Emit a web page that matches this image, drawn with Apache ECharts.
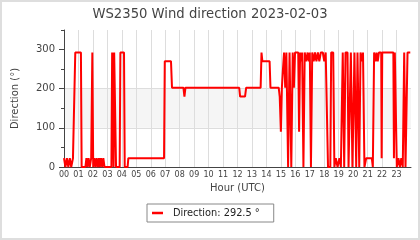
<!DOCTYPE html>
<html>
<head>
<meta charset="utf-8">
<script src="https://cdn.jsdelivr.net/npm/echarts@6/dist/echarts.min.js"></script>
<style>
html,body{margin:0;padding:0;background:#fff;}
#chart{width:420px;height:240px;}
</style>
</head>
<body>
<div id="chart"></div>
<script>
const titleText = 'WS2350 Wind direction 2023-02-03';
const seriesName = 'Direction: 292.5 °';
const xName = 'Hour (UTC)';
const yName = 'Direction (°)';
const yMajorTicks = [0, 100, 200, 300];

const hours = [
  0.00, 0.10, 0.20, 0.30, 0.40, 0.50, 0.62, 0.72, 0.78, 1.17, 1.22, 1.48, 1.55, 1.62, 1.70, 1.78, 1.88, 1.96, 2.02,
  2.10, 2.18, 2.26, 2.34, 2.42, 2.48, 2.56, 2.64, 2.72, 2.80, 3.28, 3.33, 3.40, 3.43, 3.47, 3.55, 3.60, 3.85, 3.90,
  4.15, 4.20, 4.40, 4.45, 6.92, 6.97, 7.40, 7.47, 8.26, 8.33, 8.40, 12.12, 12.18, 12.52, 12.60, 13.60, 13.66, 13.72,
  14.22, 14.28, 14.85, 14.92, 15.00, 15.07, 15.14, 15.22, 15.30, 15.38, 15.50, 15.60, 15.72, 15.82, 15.90, 15.98,
  16.20, 16.26, 16.33, 16.40, 16.47, 16.56, 16.65, 16.75, 16.85, 16.93, 17.00, 17.08, 17.17, 17.27, 17.36, 17.46,
  17.56, 17.66, 17.76, 17.90, 18.00, 18.10, 18.20, 18.26, 18.42, 18.48, 18.62, 18.70, 18.80, 18.92, 19.05, 19.15,
  19.22, 19.28, 19.38, 19.47, 19.61, 19.68, 19.84, 19.95, 20.09, 20.21, 20.30, 20.42, 20.51, 20.60, 20.68, 20.78,
  20.90, 21.29, 21.36, 21.45, 21.55, 21.62, 21.70, 21.78, 21.94, 21.97, 22.01, 22.78, 22.82, 22.88, 23.02, 23.13,
  23.23, 23.33, 23.43, 23.53, 23.62, 23.76, 23.95
];
const direction = [
  22.5, 0, 22.5, 0, 22.5, 0, 22.5, 22.5, 292.5, 292.5, 0, 0, 22.5, 0, 22.5, 0, 22.5, 292.5, 0,
  22.5, 0, 22.5, 0, 22.5, 0, 22.5, 0, 22.5, 0, 0, 292.5, 292.5, 0, 292.5, 292.5, 0, 0, 292.5,
  292.5, 0, 0, 22.5, 22.5, 270, 270, 202.5, 202.5, 180, 202.5, 202.5, 180, 180, 202.5, 202.5, 292.5, 270,
  270, 202.5, 202.5, 180, 90, 202.5, 247.5, 292.5, 202.5, 292.5, 0, 292.5, 0, 292.5, 202.5, 292.5,
  292.5, 90, 292.5, 270, 292.5, 0, 292.5, 270, 292.5, 270, 292.5, 0, 292.5, 270, 292.5, 270,
  292.5, 270, 292.5, 292.5, 270, 292.5, 292.5, 0, 0, 292.5, 292.5, 0, 22.5, 0, 22.5, 0,
  0, 292.5, 0, 292.5, 292.5, 0, 292.5, 0, 292.5, 0, 292.5, 0, 292.5, 270, 292.5, 0,
  22.5, 22.5, 0, 292.5, 270, 292.5, 270, 292.5, 292.5, 22.5, 292.5, 292.5, 22.5, 292.5, 0, 22.5,
  0, 22.5, 0, 292.5, 0, 292.5, 292.5
];

const chart = echarts.init(document.getElementById('chart'), null, {renderer: 'canvas'});
const font = 'DejaVu Sans';
const txt = '#444';
chart.setOption({
  animation: false,
  textStyle: {fontFamily: font},
  title: {
    text: titleText, left: 'center', top: 3,
    textStyle: {fontFamily: font, fontSize: 13.2, fontWeight: 'normal', color: txt}
  },
  graphic: [{
    type: 'rect', silent: true, z: 100,
    shape: {x: 1, y: 1, width: 418, height: 238},
    style: {fill: 'none', stroke: '#dedede', lineWidth: 2}
  }],
  grid: {left: 64, right: 9, top: 30, bottom: 73},
  legend: {
    left: 147, top: 204,
    padding: [4, 14, 4, 5],
    borderColor: '#888', borderWidth: 1, borderRadius: 0,
    icon: 'rect', itemWidth: 11, itemHeight: 2.5,
    textStyle: {fontFamily: font, fontSize: 9.8, color: '#222', padding: [0, 0, 0, 5]},
    data: [seriesName]
  },
  xAxis: {
    type: 'value', min: 0, max: 24, interval: 1,
    name: xName, nameLocation: 'middle', nameGap: 15,
    nameTextStyle: {fontFamily: font, fontSize: 10, color: txt},
    axisLine: {lineStyle: {color: '#444', width: 1}},
    axisTick: {show: false},
    axisLabel: {
      fontFamily: font, fontSize: 8, color: txt, margin: 4,
      formatter: v => v >= 24 ? '' : String(v).padStart(2, '0')
    },
    splitLine: {show: true, showMaxLine: false, lineStyle: {color: '#ddd', width: 1}}
  },
  yAxis: [{
    type: 'value', min: 0, max: 350, interval: 100, position: 'left',
    name: yName, nameLocation: 'middle', nameGap: 44,
    nameTextStyle: {fontFamily: font, fontSize: 10, color: txt},
    axisLine: {show: true, lineStyle: {color: '#444', width: 1}},
    axisTick: {show: true, length: 5, customValues: yMajorTicks, lineStyle: {color: '#444'}},
    axisLabel: {fontFamily: font, fontSize: 10, color: txt, margin: 9, customValues: yMajorTicks,
      formatter: v => v > 300 ? '' : String(v)},
    splitLine: {show: true, showMinLine: false, showMaxLine: false, lineStyle: {color: '#ddd', width: 1}},
    splitArea: {show: true, areaStyle: {color: ['rgba(0,0,0,0)', '#f5f5f5', 'rgba(0,0,0,0)', 'rgba(0,0,0,0)']}}
  }, {
    type: 'value', min: 0, max: 350, interval: 50, position: 'left', offset: 0,
    axisLine: {show: false},
    axisTick: {show: true, length: 3, lineStyle: {color: '#444'}},
    axisLabel: {show: false},
    splitLine: {show: false}
  }],
  series: [{
    name: seriesName, type: 'line', yAxisIndex: 0,
    data: hours.map((h, i) => [h, direction[i]]),
    showSymbol: false, symbol: 'none',
    lineStyle: {color: '#ff0000', width: 2},
    itemStyle: {color: '#ff0000'}
  }]
});
</script>
</body>
</html>
